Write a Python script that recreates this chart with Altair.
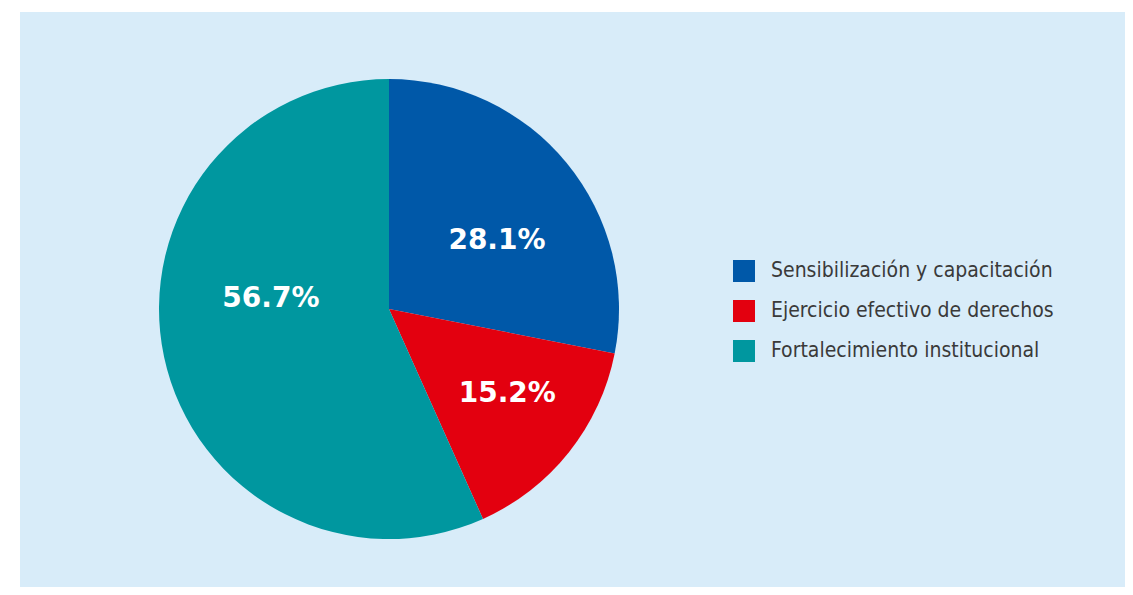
import altair as alt
import pandas as pd

categories = ["Sensibilización y capacitación", "Ejercicio efectivo de derechos", "Fortalecimiento institucional"]
values = [28.1, 15.2, 56.7]
colors = ["#0058a8", "#e3000f", "#00979f"]

df = pd.DataFrame({"cat": categories, "val": values, "idx": list(range(len(categories)))})

base = alt.Chart(df).transform_calculate(
    label="format(datum.val, '.1f') + '%'"
).encode(
    theta=alt.Theta("val:Q", stack=True),
    order=alt.Order("idx:Q"),
    x=alt.value(369),
    y=alt.value(297),
)

arcs = base.mark_arc(outerRadius=230, stroke=None).encode(
    color=alt.Color(
        "cat:N",
        sort=categories,
        scale=alt.Scale(domain=categories, range=colors),
        legend=alt.Legend(
            title=None,
            orient="none",
            legendX=713,
            legendY=248,
            symbolType="square",
            symbolSize=484,
            symbolStrokeWidth=0,
            symbolOpacity=1,
            labelFont="DejaVu Sans Condensed",
            labelFontSize=21,
            labelColor="#3a3a3a",
            labelOffset=16,
            rowPadding=18,
            labelLimit=400,
        ),
    )
)

# label nudges (pixels) to follow the reference's label placement
nudges = [(6, 16), (15, 3), (11, -38)]
text_layers = []
for cat, (ddx, ddy) in zip(categories, nudges):
    text_layers.append(
        base.mark_text(radius=132, font="DejaVu Sans", fontWeight="bold", fontSize=28,
                       color="white", dx=ddx, dy=ddy)
        .encode(text="label:N", opacity=alt.condition(f"datum.cat == '{cat}'", alt.value(1), alt.value(0)))
    )

chart = alt.layer(arcs, *text_layers).properties(
    width=1105,
    height=575,
    padding={"left": 12, "top": 4, "right": 0, "bottom": 0},
    autosize=alt.AutoSizeParams(type="none"),
    background="white",
).configure_view(fill="#d8ecf9", strokeWidth=0)

chart.save("out.html", embed_options={"renderer": "svg", "actions": False})
